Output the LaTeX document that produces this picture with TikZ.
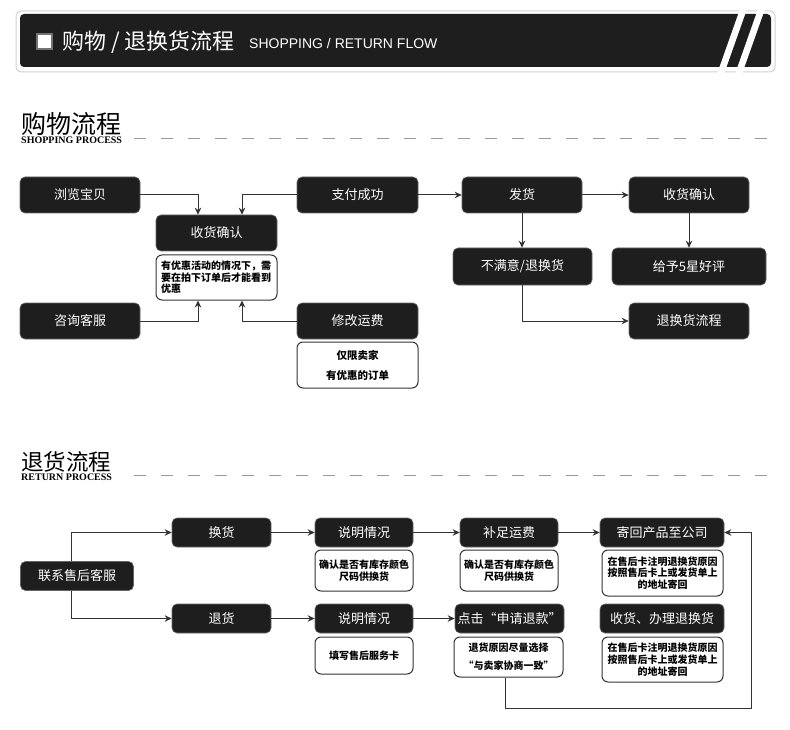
\documentclass[tikz,border=0pt]{standalone}
\usepackage{fontspec}
\setmainfont{Noto Sans CJK SC}
\newfontfamily\latsans{Liberation Sans}
\newfontfamily\latserif{Liberation Serif}
\usetikzlibrary{arrows.meta}
\definecolor{boxblack}{HTML}{1E1E1E}
\definecolor{dashgray}{HTML}{9A9A9A}
\begin{document}
\begin{tikzpicture}[x=1pt,y=-1pt,
  blk/.style={draw=black!60, line width=0.6pt, fill=boxblack, rounded corners=5pt, text=white,
    font=\fontsize{13}{15}\selectfont, inner sep=0pt},
  note/.style={draw=black!80, line width=1pt, fill=white, rounded corners=6pt, inner sep=0pt,
    align=center, font=\bfseries\fontsize{10}{12}\selectfont},
  arr/.style={draw=black!80, line width=1pt, -{Stealth[length=7pt,width=6.5pt]}},
  dline/.style={draw=dashgray, line width=1pt, dash pattern=on 12pt off 15pt},
]
\useasboundingbox (0,0) rectangle (790,730);
\fill[white] (0,0) rectangle (790,730);

% ---------- header ----------
\draw[draw=black!18, line width=1pt, fill=white, rounded corners=5pt] (16,11) rectangle (775,72);
\fill[boxblack, rounded corners=4pt] (20,14) rectangle (771,67);
\fill[white] (740,9) -- (747,9) -- (724,74) -- (717,74) -- cycle;
\fill[white] (758,9) -- (765,9) -- (742,74) -- (735,74) -- cycle;
\draw[draw=black!55, line width=1.5pt, fill=white] (37,34) rectangle (52,49);
\node[anchor=west, inner sep=0pt, text=white, font=\fontsize{22}{25}\selectfont] (htitle) at (62,42) {购物 / 退换货流程};
\node[anchor=west, inner sep=0pt, text=white, font=\latsans\fontsize{14}{16}\selectfont] (hsub) at (249,43) {SHOPPING / RETURN FLOW};

% ---------- shopping section title ----------
\node[anchor=west, inner sep=0pt, font=\fontsize{25}{28}\selectfont] (t1) at (21,124) {购物流程};
\node[anchor=base west, inner sep=0pt, font=\latserif\bfseries\fontsize{10}{11}\selectfont] (t1s) at (21,144) {SHOPPING PROCESS};
\draw[dline] (134,139) -- (775,139);

% ---------- shopping nodes ----------
\node[blk, minimum width=120, minimum height=36] (b1) at (80,195) {浏览宝贝};
\node[blk, minimum width=121, minimum height=36] (sh1) at (216.5,233) {收货确认};
\node[note, align=left, text width=111pt, inner xsep=5pt, minimum height=45,
      font=\bfseries\fontsize{10}{11.5}\selectfont] (n1) at (216.5,277.5)
      {有优惠活动的情况下，需\\要在拍下订单后才能看到\\优惠};
\node[blk, minimum width=121, minimum height=36] (pay) at (357.5,195) {支付成功};
\node[blk, minimum width=120, minimum height=36] (cs) at (80,321) {咨询客服};
\node[blk, minimum width=121, minimum height=36] (fee) at (357.5,321) {修改运费};
\node[note, minimum width=121, minimum height=46, font=\bfseries\fontsize{10.5}{20}\selectfont] (n2) at (357.5,365) {仅限卖家\\有优惠的订单};
\node[blk, minimum width=120, minimum height=36] (ship) at (522,195) {发货};
\node[blk, minimum width=120, minimum height=36] (sh2) at (689,195) {收货确认};
\node[blk, minimum width=139, minimum height=37] (dis) at (522.5,266.5) {不满意/退换货};
\node[blk, minimum width=154, minimum height=37] (good) at (689,266.5) {给予5星好评};
\node[blk, minimum width=120, minimum height=36] (ret) at (689,321) {退换货流程};

% ---------- shopping connectors ----------
\draw[arr] (b1.east) -| ([xshift=-18.5pt]sh1.north);
\draw[arr] (pay.west) -| ([xshift=25.5pt]sh1.north);
\draw[arr] (cs.east) -| ([xshift=-18.5pt]n1.south);
\draw[arr] (fee.west) -| ([xshift=25.5pt]n1.south);
\draw[arr] (pay.east) -- (ship.west);
\draw[arr] (ship.east) -- (sh2.west);
\draw[arr] (ship.south) -- (ship.south |- dis.north);
\draw[arr] (sh2.south) -- (sh2.south |- good.north);
\draw[arr] (dis.south) |- (ret.west);

% ---------- return section title ----------
\node[anchor=west, inner sep=0pt, font=\fontsize{22.5}{25}\selectfont] (t2) at (21,461.5) {退货流程};
\node[anchor=base west, inner sep=0pt, font=\latserif\bfseries\fontsize{10}{11}\selectfont] (t2s) at (21,480) {RETURN PROCESS};
\draw[dline] (134,475) -- (775,475);

% ---------- return nodes ----------
\node[blk, minimum width=113, minimum height=29] (c0) at (77,576) {联系售后客服};
\node[blk, minimum width=99, minimum height=29] (hh) at (221.5,532.5) {换货};
\node[blk, minimum width=99, minimum height=29] (th) at (221.5,618.5) {退货};
\node[blk, minimum width=98, minimum height=29] (sm1) at (364,532.5) {说明情况};
\node[note, minimum width=98, minimum height=41] (sn1) at (364,570.5) {确认是否有库存颜色\\尺码供换货};
\node[blk, minimum width=98, minimum height=29] (bz) at (509,532.5) {补足运费};
\node[note, minimum width=98, minimum height=41] (bn) at (509,570.5) {确认是否有库存颜色\\尺码供换货};
\node[blk, minimum width=98, minimum height=29] (sm2) at (364,618.5) {说明情况};
\node[note, minimum width=98, minimum height=37] (sn2) at (364,655.5) {填写售后服务卡};
\node[blk, minimum width=109, minimum height=29] (rf) at (509.5,618.5) {点击“申请退款”};
\node[note, minimum width=109, minimum height=40, font=\bfseries\fontsize{10}{18}\selectfont] (rn) at (508.5,657) {退货原因尽量选择\\“与卖家协商一致”};
\node[blk, minimum width=124, minimum height=29] (send) at (662,532.5) {寄回产品至公司};
\node[note, minimum width=121, minimum height=46, font=\bfseries\fontsize{10}{11.8}\selectfont] (sendn) at (662.5,573) {在售后卡注明退换货原因\\按照售后卡上或发货单上\\的地址寄回};
\node[blk, minimum width=124, minimum height=29] (recv) at (662,618.5) {收货、办理退换货};
\node[note, minimum width=121, minimum height=45, font=\bfseries\fontsize{10}{11.8}\selectfont] (recvn) at (662.5,659.5) {在售后卡注明退换货原因\\按照售后卡上或发货单上\\的地址寄回};

% ---------- return connectors ----------
\draw[arr] ([xshift=-6pt]c0.north) |- (hh.west);
\draw[arr] ([xshift=-6pt]c0.south) |- (th.west);
\draw[arr] (hh.east) -- (sm1.west);
\draw[arr] (th.east) -- (sm2.west);
\draw[arr] (sm1.east) -- (bz.west);
\draw[arr] (sm2.east) -- (rf.west);
\draw[arr] (bz.east) -- (send.west);
\coordinate (loopc) at (751,708);
\draw[arr] ([xshift=-3pt]rn.south) |- (loopc) |- (send.east);
\end{tikzpicture}
\end{document}
